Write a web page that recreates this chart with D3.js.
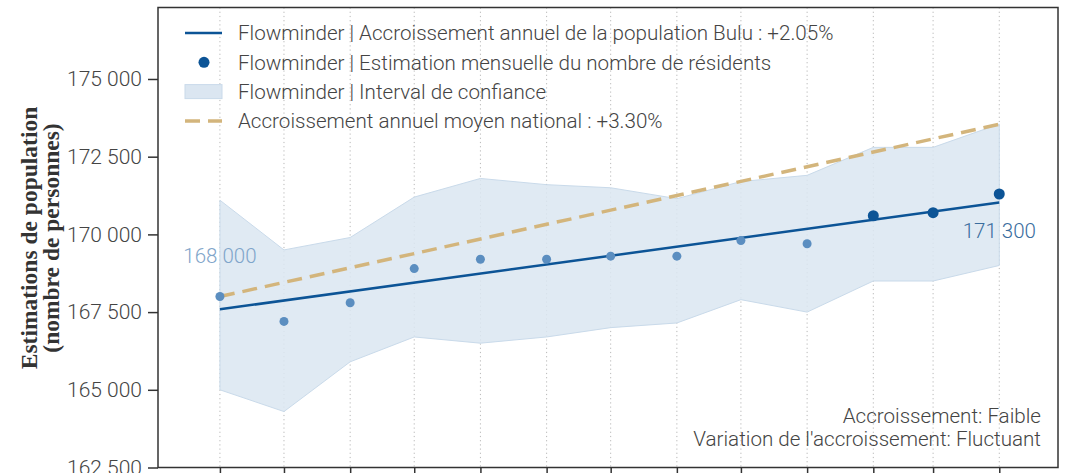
<!DOCTYPE html>
<html>
<head>
<meta charset="utf-8">
<script src="https://cdn.jsdelivr.net/npm/d3@7"></script>
<style>
  body { margin: 0; background: #fff; }
  svg { display: block; }
</style>
</head>
<body>
<div id="chart"></div>
<script>
'use strict';

// monthly dates (1st of each month)
var months = ['2022-04-01', '2022-05-01', '2022-06-01', '2022-07-01', '2022-08-01', '2022-09-01',
              '2022-10-01', '2022-11-01', '2022-12-01', '2023-01-01', '2023-02-01', '2023-03-01', '2023-04-01'];

// monthly estimates of residents
var estimates = [168000, 167200, 167800, 168900, 169200, 169200, 169300, 169300, 169800, 169700, 170600, 170700, 171300];

// confidence interval
var ciLow  = [165000, 164300, 165900, 166700, 166500, 166700, 167000, 167150, 167900, 167500, 168500, 168500, 169000];
var ciHigh = [171100, 169500, 169900, 171200, 171800, 171600, 171500, 171150, 171700, 171900, 172800, 172800, 173550];

// trend lines: start value and annual growth rate
var trendStart = 167590, trendRate = 0.0205;
var nationalStart = 168000, nationalRate = 0.033;

// the last three points are drawn highlighted
var highlighted = [false, false, false, false, false, false, false, false, false, false, true, true, true];

var yTicks = [162500, 165000, 167500, 170000, 172500, 175000];

var legendLabels = [
  'Flowminder | Accroissement annuel de la population Bulu : +2.05%',
  'Flowminder | Estimation mensuelle du nombre de résidents',
  'Flowminder | Interval de confiance',
  'Accroissement annuel moyen national : +3.30%'
];

var notes = ['Accroissement: Faible', "Variation de l'accroissement: Fluctuant"];

var width = 1071, height = 473;
var plotLeft = 158, plotRight = 1058, plotTop = 7.5, plotBottom = 467.5;
var sans = 'Roboto, "Noto Sans", sans-serif';

var parse = d3.timeParse('%Y-%m-%d');
var data = months.map(function (m, i) {
  return { date: parse(m), value: estimates[i], lo: ciLow[i], hi: ciHigh[i], hl: highlighted[i] };
});

var x = d3.scaleTime()
  .domain([new Date(2022, 2, 3), new Date(2023, 3, 28, 12)])
  .range([plotLeft, plotRight]);

var y = d3.scaleLinear()
  .domain([162500, 177300])
  .range([plotBottom, plotTop]);

var fmt = function (v) { return d3.format(',')(v).replace(/,/g, ' '); };

var svg = d3.select('#chart').append('svg')
  .attr('width', width)
  .attr('height', height);

// vertical dotted grid
svg.append('g')
  .selectAll('line')
  .data(data)
  .enter().append('line')
  .attr('x1', function (d) { return x(d.date); })
  .attr('x2', function (d) { return x(d.date); })
  .attr('y1', plotTop)
  .attr('y2', plotBottom)
  .attr('stroke', '#b8b8b8')
  .attr('stroke-width', 1)
  .attr('stroke-dasharray', '1.2,3');

// confidence band
var area = d3.area()
  .x(function (d) { return x(d.date); })
  .y0(function (d) { return y(d.lo); })
  .y1(function (d) { return y(d.hi); });

svg.append('path')
  .datum(data)
  .attr('d', area)
  .attr('fill', '#dbe6f1')
  .attr('fill-opacity', 0.85)
  .attr('stroke', '#c9daea')
  .attr('stroke-width', 1);

// trend lines (compound annual growth)
var t0 = data[0].date, t1 = data[data.length - 1].date;
function growth(start, rate, t) {
  var years = (t - t0) / (365 * 864e5);
  return start * Math.pow(1 + rate, years);
}
var ends = [t0, t1];

var line = d3.line()
  .x(function (d) { return x(d.t); })
  .y(function (d) { return y(d.v); });

svg.append('path')
  .datum(ends.map(function (t) { return { t: t, v: growth(nationalStart, nationalRate, t) }; }))
  .attr('d', line)
  .attr('fill', 'none')
  .attr('stroke', '#d3b57c')
  .attr('stroke-width', 3.5)
  .attr('stroke-dasharray', '15,8');

svg.append('path')
  .datum(ends.map(function (t) { return { t: t, v: growth(trendStart, trendRate, t) }; }))
  .attr('d', line)
  .attr('fill', 'none')
  .attr('stroke', '#0c5496')
  .attr('stroke-width', 2.5);

// monthly points
svg.append('g')
  .selectAll('circle')
  .data(data)
  .enter().append('circle')
  .attr('cx', function (d) { return x(d.date); })
  .attr('cy', function (d) { return y(d.value); })
  .attr('r', function (d) { return d.hl ? 5.5 : 4.5; })
  .attr('fill', function (d) { return d.hl ? '#0c5496' : '#5b8ec0'; });

// first / last value labels
var first = data[0], last = data[data.length - 1];
svg.append('text')
  .attr('x', x(first.date))
  .attr('y', y(first.value) - 34)
  .attr('text-anchor', 'middle')
  .style('font-family', sans)
  .style('font-size', '20.5px')
  .style('font-weight', 300)
  .attr('fill', '#7fa5ca')
  .text(fmt(first.value));

svg.append('text')
  .attr('x', x(last.date))
  .attr('y', y(last.value) + 44)
  .attr('text-anchor', 'middle')
  .style('font-family', sans)
  .style('font-size', '20.5px')
  .style('font-weight', 300)
  .attr('fill', '#3a6d9e')
  .text(fmt(last.value));

// y axis
var yAxis = svg.append('g')
  .attr('transform', 'translate(' + plotLeft + ',0)')
  .call(d3.axisLeft(y).tickValues(yTicks).tickSize(10).tickPadding(6).tickFormat(fmt));
yAxis.select('.domain').remove();
yAxis.selectAll('line').attr('stroke', '#333').attr('stroke-width', 1.5);
yAxis.selectAll('text')
  .style('font-family', sans)
  .style('font-size', '21px')
  .style('font-weight', 300)
  .attr('fill', '#444');

// x axis ticks (month labels lie outside the picture)
var xAxis = svg.append('g')
  .attr('transform', 'translate(0,' + plotBottom + ')')
  .call(d3.axisBottom(x).tickValues(data.map(function (d) { return d.date; })).tickSize(8)
    .tickFormat(''));
xAxis.select('.domain').remove();
xAxis.selectAll('line').attr('stroke', '#333').attr('stroke-width', 1.5);

// frame
svg.append('rect')
  .attr('x', plotLeft)
  .attr('y', plotTop)
  .attr('width', plotRight - plotLeft)
  .attr('height', plotBottom - plotTop)
  .attr('fill', 'none')
  .attr('stroke', '#333')
  .attr('stroke-width', 1.5);

// y title
var yTitle = svg.append('text')
  .attr('transform', 'translate(37,238) rotate(-90)')
  .attr('text-anchor', 'middle')
  .style('font-family', '"Liberation Serif", "DejaVu Serif", serif')
  .style('font-weight', 'bold')
  .style('font-size', '23.5px')
  .attr('fill', '#333');
yTitle.append('tspan').attr('x', 0).attr('dy', 0).text('Estimations de population');
yTitle.append('tspan').attr('x', 0).attr('dy', '0.93em').text('(nombre de personnes)');

// legend
var legend = svg.append('g').attr('transform', 'translate(185,33)');
var rowH = 29.3;
legendLabels.forEach(function (label, i) {
  var g = legend.append('g').attr('transform', 'translate(0,' + (i * rowH) + ')');
  if (i === 0) {
    g.append('line').attr('x1', 0).attr('x2', 37).attr('stroke', '#0c5496').attr('stroke-width', 2.5);
  } else if (i === 1) {
    g.append('circle').attr('cx', 19).attr('r', 5.5).attr('fill', '#0c5496');
  } else if (i === 2) {
    g.append('rect').attr('x', 0).attr('y', -7).attr('width', 37).attr('height', 14)
      .attr('fill', '#dbe6f1').attr('stroke', '#c9daea');
  } else {
    g.append('line').attr('x1', 0).attr('x2', 37).attr('stroke', '#d3b57c')
      .attr('stroke-width', 3.5).attr('stroke-dasharray', '15,8');
  }
  g.append('text')
    .attr('x', 53)
    .attr('dy', '0.35em')
    .style('font-family', sans)
    .style('font-size', '20.6px')
    .style('font-weight', 300)
    .attr('fill', '#444')
    .text(label);
});

// notes
svg.append('g')
  .selectAll('text')
  .data(notes)
  .enter().append('text')
  .attr('x', 1041)
  .attr('y', function (d, i) { return 416 + i * 23; })
  .attr('dy', '0.35em')
  .attr('text-anchor', 'end')
  .style('font-family', sans)
  .style('font-size', '20.6px')
  .style('font-weight', 300)
  .attr('fill', '#444')
  .text(function (d) { return d; });
</script>
</body>
</html>
